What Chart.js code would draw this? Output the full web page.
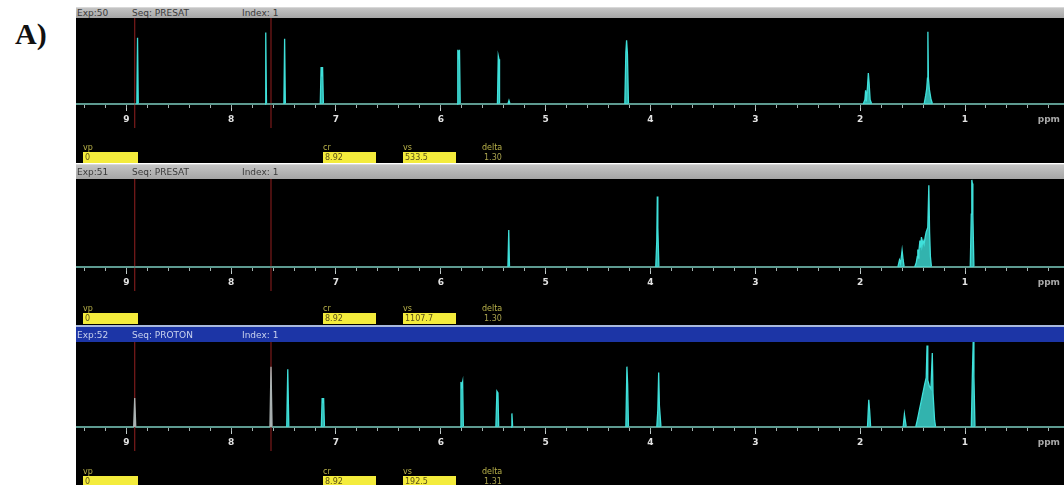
<!DOCTYPE html>
<html>
<head>
<meta charset="utf-8">
<script src="https://cdn.jsdelivr.net/npm/chart.js@4.4.0/dist/chart.umd.min.js"></script>
<style>
  body { margin: 0; width: 1064px; height: 485px; background: #fff; position: relative; overflow: hidden; }
  .tag { position: absolute; left: 15px; top: 19px; font: bold 30px "Liberation Serif", serif; color: #111; line-height: 1; }
  .head { position: absolute; left: 76px; width: 988px; box-sizing: border-box; font: 9px "DejaVu Sans", sans-serif; white-space: nowrap; }
  .head span { position: absolute; top: 50%; transform: translateY(-50%); }
  .head.gray { background: linear-gradient(#c4c4c4, #a6a6a6); color: #3a3a3a; border-top: 1px solid #d8d8d8; }
  .head.blue { background: #1c35a6; color: #c9d2ee; border-top: 2px solid #a9b9dc; }
  .plot { position: absolute; left: 76px; width: 988px; background: #000; }
  .plot canvas { position: absolute; left: 0; top: 0; }
  .par { position: absolute; font: 8px "DejaVu Sans", sans-serif; }
  .par .name { color: #b9b24a; height: 9px; line-height: 9px; }
  .par .val { height: 11px; line-height: 11px; padding-left: 2px; color: #5c5218; }
  .par.box .val { background: #f4ec3c; }
  .par.plain .val { color: #a9a24e; background: none; }
</style>
</head>
<body>
<div class="tag">A)</div>

<script>
// ppm axis range and ticks
const ppmLeft = 9.48;
const ppmRight = 0.06;
const majorTicks = [9, 8, 7, 6, 5, 4, 3, 2, 1];
const unitTickAt = 0.2;
const cursorPpm = [8.92, 7.62];

// parameter fields under each spectrum
const paramNames = ['vp', 'cr', 'vs', 'delta'];
const exp50Params = ['0', '8.92', '533.5', '1.30'];
const exp51Params = ['0', '8.92', '1107.7', '1.30'];
const exp52Params = ['0', '8.92', '192.5', '1.31'];

// header lines
const exp50Header = ['Exp:50', 'Seq: PRESAT', 'Index: 1'];
const exp51Header = ['Exp:51', 'Seq: PRESAT', 'Index: 1'];
const exp52Header = ['Exp:52', 'Seq: PROTON', 'Index: 1'];

// traces as [ppm, relative intensity]
const exp50Trace = [
  [9.48, 0],
  [8.90, 0], [8.893, 77], [8.886, 0],
  [7.677, 0], [7.67, 83], [7.663, 0],
  [7.497, 0], [7.49, 76], [7.483, 0],
  [7.15, 0], [7.142, 43], [7.135, 32], [7.128, 43], [7.12, 0],
  [5.845, 0], [5.838, 63], [5.83, 56], [5.822, 63], [5.815, 0],
  [5.46, 0], [5.452, 56], [5.445, 52], [5.44, 0],
  [5.36, 0], [5.35, 4], [5.34, 0],
  [4.245, 0], [4.235, 60], [4.228, 74], [4.22, 58], [4.21, 0],
  [1.97, 0], [1.955, 5], [1.948, 16], [1.942, 3], [1.93, 20], [1.922, 36], [1.915, 25], [1.905, 5], [1.89, 0],
  [1.39, 0], [1.375, 10], [1.365, 18], [1.358, 30], [1.354, 84], [1.349, 30], [1.34, 17], [1.325, 6], [1.31, 0],
  [0.06, 0]
];

const exp51Trace = [
  [9.48, 0],
  [5.36, 0], [5.352, 42], [5.345, 0],
  [3.95, 0], [3.94, 30], [3.935, 80], [3.93, 45], [3.92, 0],
  [1.64, 0], [1.625, 8], [1.615, 4], [1.60, 19], [1.59, 8], [1.58, 0],
  [1.48, 0], [1.465, 5], [1.455, 12], [1.45, 20], [1.445, 10], [1.44, 18], [1.43, 30], [1.425, 22],
  [1.415, 34], [1.41, 24], [1.40, 30], [1.39, 26], [1.38, 34], [1.37, 40], [1.355, 45],
  [1.345, 93], [1.338, 40], [1.33, 12], [1.32, 0],
  [0.95, 0], [0.94, 60], [0.935, 99], [0.93, 95], [0.925, 60], [0.915, 0],
  [0.06, 0]
];

const exp52Trace = [
  [9.48, 0],
  [8.93, 0], [8.92, 34], [8.91, 0],
  [7.63, 0], [7.62, 71], [7.61, 0],
  [7.47, 0], [7.46, 68], [7.45, 0],
  [7.14, 0], [7.132, 34], [7.125, 28], [7.118, 34], [7.11, 0],
  [5.815, 0], [5.808, 53], [5.80, 48], [5.792, 53], [5.785, 0],
  [5.475, 0], [5.465, 42], [5.455, 40], [5.448, 0],
  [5.33, 0], [5.322, 16], [5.315, 0],
  [4.235, 0], [4.225, 71], [4.218, 50], [4.21, 0],
  [3.94, 0], [3.93, 20], [3.922, 64], [3.915, 25], [3.90, 0],
  [1.93, 0], [1.918, 32], [1.91, 20], [1.90, 0],
  [1.59, 0], [1.578, 15], [1.57, 8], [1.56, 0],
  [1.47, 0], [1.455, 8], [1.445, 14], [1.435, 20], [1.425, 26], [1.415, 32], [1.405, 38], [1.395, 44],
  [1.385, 50], [1.37, 58], [1.362, 96], [1.355, 55], [1.34, 48], [1.325, 45], [1.312, 87], [1.305, 40],
  [1.29, 8], [1.28, 0],
  [0.94, 0], [0.93, 60], [0.922, 100], [0.915, 60], [0.905, 0],
  [0.06, 0]
];

// panel geometry: header top/height, plot height, px from plot top to baseline
const panels = [
  { header: exp50Header, trace: exp50Trace, params: exp50Params, headTop: 7, headH: 11, plotH: 145, above: 86, style: 'gray', grayAtCursor: false },
  { header: exp51Header, trace: exp51Trace, params: exp51Params, headTop: 164, headH: 15, plotH: 146, above: 88, style: 'gray', grayAtCursor: false },
  { header: exp52Header, trace: exp52Trace, params: exp52Params, headTop: 325, headH: 17, plotH: 143, above: 85, style: 'blue', grayAtCursor: true }
];

const headOffsets = [1, 56, 166];
const paramBoxes = [
  { left: 7, width: 55, box: true },
  { left: 247, width: 53, box: true },
  { left: 327, width: 53, box: true },
  { left: 406, width: 40, box: false }
];

const traceColor = '#3fe0da';
const baseColor = '#5e9a90';
const dimColor = '#aab3b3';

const makeHeader = (p) => {
  const h = document.createElement('div');
  h.className = 'head ' + p.style;
  h.style.top = p.headTop + 'px';
  h.style.height = p.headH + 'px';
  p.header.forEach((t, i) => {
    const s = document.createElement('span');
    s.textContent = t;
    s.style.left = headOffsets[i] + 'px';
    h.appendChild(s);
  });
  document.body.appendChild(h);
};

const makeParams = (p, plotTop) => {
  paramNames.forEach((name, i) => {
    const b = paramBoxes[i];
    const d = document.createElement('div');
    d.className = 'par ' + (b.box ? 'box' : 'plain');
    d.style.left = (76 + b.left) + 'px';
    d.style.top = (plotTop + 125) + 'px';
    d.style.width = b.width + 'px';
    d.innerHTML = '<div class="name">' + name + '</div><div class="val">' + p.params[i] + '</div>';
    document.body.appendChild(d);
  });
};

const drawPanel = (p) => {
  makeHeader(p);
  const plotTop = p.headTop + p.headH;
  const wrap = document.createElement('div');
  wrap.className = 'plot';
  wrap.style.top = plotTop + 'px';
  wrap.style.height = p.plotH + 'px';
  const canvas = document.createElement('canvas');
  canvas.width = 988;
  canvas.height = p.plotH;
  wrap.appendChild(canvas);
  document.body.appendChild(wrap);
  makeParams(p, plotTop);

  const yMin = -100 * (p.plotH - p.above) / p.above;
  const cursorLow = -100 * 24 / p.above;

  const nearCursor = (ctx) => {
    const mid = (ctx.p0.parsed.x + ctx.p1.parsed.x) / 2;
    return p.grayAtCursor && cursorPpm.some((c) => Math.abs(c - mid) < 0.015);
  };
  const flat = (ctx) => ctx.p0.parsed.y === 0 && ctx.p1.parsed.y === 0;

  const cursorSets = cursorPpm.map((c) => ({
    data: [{ x: c, y: 100 }, { x: c, y: cursorLow }],
    borderColor: '#7c1b1b',
    borderWidth: 1.2,
    pointRadius: 0,
    fill: false,
    order: 2
  }));

  new Chart(canvas.getContext('2d'), {
    type: 'line',
    data: {
      datasets: [
        {
          data: p.trace.map(([x, y]) => ({ x, y })),
          borderColor: traceColor,
          backgroundColor: 'rgba(63, 224, 218, 0.8)',
          fill: 'origin',
          borderWidth: 1.3,
          pointRadius: 0,
          tension: 0,
          order: 1,
          segment: {
            borderColor: (ctx) => (flat(ctx) ? baseColor : nearCursor(ctx) ? dimColor : undefined),
            backgroundColor: (ctx) => (nearCursor(ctx) ? dimColor : undefined)
          }
        },
        ...cursorSets
      ]
    },
    options: {
      responsive: false,
      animation: false,
      events: [],
      layout: { padding: 0 },
      plugins: { legend: { display: false }, tooltip: { enabled: false } },
      scales: {
        x: {
          type: 'linear',
          reverse: true,
          min: ppmRight,
          max: ppmLeft,
          position: { y: 0 },
          z: 1,
          afterBuildTicks: (s) => {
            s.ticks = majorTicks.concat([unitTickAt]).map((v) => ({ value: v }));
          },
          ticks: {
            autoSkip: false,
            maxRotation: 0,
            padding: 4,
            color: (ctx) => (ctx.tick.value === unitTickAt ? '#a8a8a8' : '#e2e2e2'),
            font: { family: 'DejaVu Sans', size: 9, weight: 'bold' },
            callback: (v) => (v === unitTickAt ? 'ppm' : String(v))
          },
          grid: {
            drawOnChartArea: false,
            tickLength: 6,
            tickWidth: 1,
            tickColor: (ctx) => (ctx.tick && ctx.tick.value === unitTickAt ? 'rgba(0,0,0,0)' : '#c2cccb')
          },
          border: { color: baseColor, width: 2 }
        },
        xMinor: {
          type: 'linear',
          reverse: true,
          min: ppmRight,
          max: ppmLeft,
          position: { y: 0 },
          z: 2,
          afterBuildTicks: (s) => {
            const t = [];
            for (let i = 47; i >= 1; i--) t.push({ value: i / 5 });
            s.ticks = t;
          },
          ticks: { display: false },
          grid: { drawOnChartArea: false, tickLength: 4, tickWidth: 1, tickColor: '#a4b2b0' },
          border: { display: false }
        },
        y: { display: false, min: yMin, max: 100 }
      }
    }
  });
};

panels.forEach(drawPanel);
</script>
</body>
</html>
